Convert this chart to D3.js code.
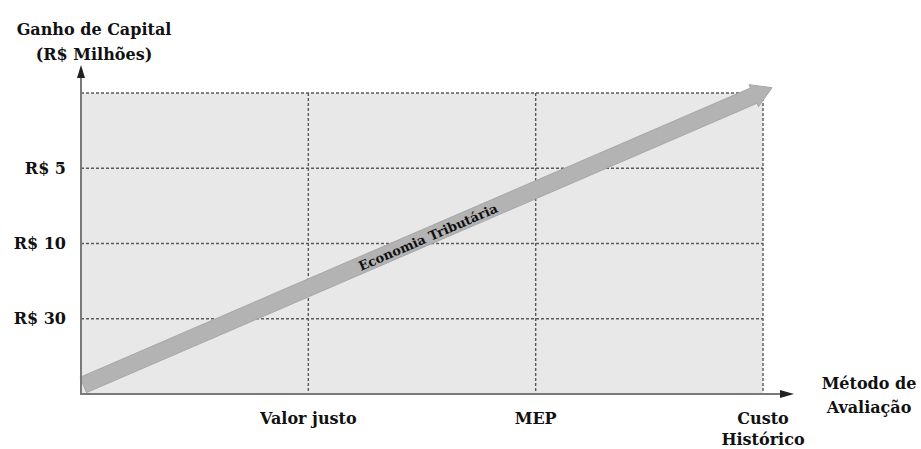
<!DOCTYPE html>
<html>
<head>
<meta charset="utf-8">
<script src="https://cdn.jsdelivr.net/npm/d3@7"></script>
<style>
  body { margin: 0; background: #fff; }
  text { font-family: "DejaVu Serif", serif; font-weight: bold; fill: #111; }
</style>
</head>
<body>
<svg id="chart" width="921" height="449"></svg>
<script>
// x axis: valuation methods, placed at steps 1..3 (0 = origin)
let methods = ["Valor justo", "MEP", "Custo Histórico"],
    method_pos = [1, 2, 3]

// y axis: capital gain levels, placed at steps 1..3 (4 = top of grid)
let gains = ["R$ 30", "R$ 10", "R$ 5"],
    gain_pos = [1, 2, 3],
    grid_levels = [1, 2, 3, 4]

// the big arrow, in axis units: [method step, gain step]
let arrow_from = [0.01, 0.12],
    arrow_to = [3.04, 4.07],
    arrow_label = "Economia Tributária"

let title_lines = ["Ganho de Capital", "(R$ Milhões)"],
    xtitle_lines = ["Método de", "Avaliação"]

let svg = d3.select("#chart")

let x = d3.scaleLinear().domain([0, 3]).range([81, 763]),
    y = d3.scaleLinear().domain([0, 4]).range([394, 93])

// plot background
svg.append("rect")
  .attr("x", x(0)).attr("y", y(4))
  .attr("width", x(3) - x(0)).attr("height", y(0) - y(4))
  .attr("fill", "#e8e8e8")

// dotted grid
svg.append("g").selectAll("line")
  .data(grid_levels).enter()
  .append("line")
  .attr("x1", x(0)).attr("x2", x(3))
  .attr("y1", d => y(d)).attr("y2", d => y(d))
  .attr("stroke", "#5a5a5a").attr("stroke-width", 1.4)
  .attr("stroke-dasharray", "3,2")

svg.append("g").selectAll("line")
  .data(method_pos).enter()
  .append("line")
  .attr("x1", d => x(d)).attr("x2", d => x(d))
  .attr("y1", y(4)).attr("y2", y(0))
  .attr("stroke", "#5a5a5a").attr("stroke-width", 1.4)
  .attr("stroke-dasharray", "3,2")

// the arrow band
let p0 = [x(arrow_from[0]), y(arrow_from[1])],
    p1 = [x(arrow_to[0]), y(arrow_to[1])],
    dx = p1[0] - p0[0], dy = p1[1] - p0[1],
    len = Math.hypot(dx, dy),
    u = [dx / len, dy / len],
    n = [-u[1], u[0]],
    half = 8.3, head_w = 12, head_l = 20,
    base = [p1[0] - head_l * u[0], p1[1] - head_l * u[1]]

let pt = (p, k) => [p[0] + k * n[0], p[1] + k * n[1]]
let arrow_pts = [
  pt(p0, half), pt(base, half), pt(base, head_w), p1,
  pt(base, -head_w), pt(base, -half), pt(p0, -half)
]

svg.append("path")
  .attr("d", d3.line()(arrow_pts) + "Z")
  .attr("fill", "#b3b3b3")
  .attr("stroke", "#a6a6a6").attr("stroke-width", 1)

let angle = Math.atan2(dy, dx) * 180 / Math.PI,
    lx = 428,
    ly = p0[1] + (lx - p0[0]) * dy / dx

svg.append("text")
  .attr("transform", `translate(${lx},${ly + 1}) rotate(${angle})`)
  .attr("text-anchor", "middle")
  .attr("dy", "0.35em")
  .attr("font-size", 13)
  .attr("fill", "#222")
  .text(arrow_label)

// axes
svg.append("line")
  .attr("x1", x(0)).attr("x2", x(0))
  .attr("y1", y(0) + 1).attr("y2", 76)
  .attr("stroke", "#7a7a7a").attr("stroke-width", 2)
svg.append("path")
  .attr("d", d3.line()([[x(0), 65], [x(0) - 4, 78], [x(0) + 4, 78]]) + "Z")
  .attr("fill", "#222")

svg.append("line")
  .attr("x1", x(0) - 1).attr("x2", 782)
  .attr("y1", y(0)).attr("y2", y(0))
  .attr("stroke", "#7a7a7a").attr("stroke-width", 2)
svg.append("path")
  .attr("d", d3.line()([[794, y(0)], [780, y(0) - 4], [780, y(0) + 4]]) + "Z")
  .attr("fill", "#222")

// y tick labels
svg.append("g").selectAll("text")
  .data(gains).enter()
  .append("text")
  .attr("x", 66)
  .attr("y", (d, i) => y(gain_pos[i]))
  .attr("dy", "0.35em")
  .attr("text-anchor", "end")
  .attr("font-size", 16)
  .text(d => d)

// x tick labels (wrap on space for the last one)
svg.append("g").selectAll("text")
  .data(methods).enter()
  .append("text")
  .attr("x", (d, i) => x(method_pos[i]))
  .attr("y", 418)
  .attr("dy", "0.35em")
  .attr("text-anchor", "middle")
  .attr("font-size", 16)
  .each(function(d, i) {
    let words = i == methods.length - 1 ? d.split(" ") : [d]
    d3.select(this).selectAll("tspan")
      .data(words).enter()
      .append("tspan")
      .attr("x", x(method_pos[i]))
      .attr("dy", (w, j) => j == 0 ? "0.35em" : "1.35em")
      .text(w => w)
  })

// axis titles
svg.append("g").selectAll("text")
  .data(title_lines).enter()
  .append("text")
  .attr("x", 94)
  .attr("y", (d, i) => 29 + i * 25)
  .attr("dy", "0.35em")
  .attr("text-anchor", "middle")
  .attr("font-size", 16)
  .text(d => d)

svg.append("g").selectAll("text")
  .data(xtitle_lines).enter()
  .append("text")
  .attr("x", 869)
  .attr("y", (d, i) => 383 + i * 24)
  .attr("dy", "0.35em")
  .attr("text-anchor", "middle")
  .attr("font-size", 16)
  .text(d => d)
</script>
</body>
</html>
